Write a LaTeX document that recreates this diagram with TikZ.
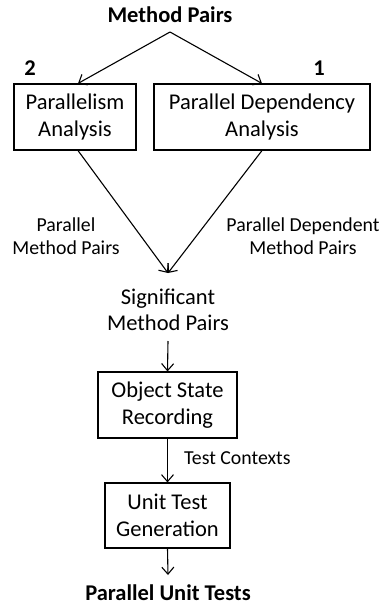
\documentclass[tikz,border=0pt]{standalone}
\usepackage{fontspec}
\setmainfont{Carlito}
\usepackage{xcolor}
\usetikzlibrary{positioning,arrows.meta,calc}
\tikzset{
  stage/.style={draw=black, line width=1.1pt, align=center, inner sep=0pt,
                minimum height=66pt, font=\fontsize{22.5}{27}\selectfont},
  flowtext/.style={align=center, inner sep=0pt, font=\fontsize{22.5}{26}\selectfont},
  edgelabel/.style={align=center, inner sep=0pt, font=\fontsize{19.8}{23}\selectfont},
  heading/.style={inner sep=0pt, font=\fontsize{22.5}{27}\selectfont\bfseries},
  flow/.style={line width=1.1pt, -{Straight Barb[length=7pt,width=12pt]}}
}

\begin{document}
\begin{tikzpicture}[x=1pt, y=-1pt]
  \useasboundingbox (0,0) rectangle (388,608);

  \node[heading] (input) at (170,15) {Method Pairs};
  \coordinate (split) at (170,32);

  \node[stage, minimum width=122pt] (para) at (75,117) {Parallelism\\Analysis};
  \node[stage, minimum width=216pt] (dep) at (262,117) {Parallel Dependency\\Analysis};
  \node[heading] (numtwo) at (30,68) {2};
  \node[heading] (numone) at (319,68) {1};

  \draw[flow] (split) -- (para.north -| 78,0);
  \draw[flow] (split) -- (dep.north);

  % both analyses meet here
  \coordinate (merge) at (168,273);
  \draw[flow] (para.south -| 78,0) -- (merge);
  \draw[flow] (dep.south) -- (merge);
  \node[edgelabel] (paralabel) at (66,236) {Parallel\\Method Pairs};
  \node[edgelabel] (deplabel) at (303,236) {Parallel Dependent\\Method Pairs};

  \node[flowtext] (signif) at (168,310) {Significant\\Method Pairs};

  \node[stage, minimum width=139pt] (record) at (167.5,405) {Object State\\Recording};
  \node[stage, minimum width=125pt, minimum height=65pt] (gen) at (167.5,515.5) {Unit Test\\Generation};
  \node[heading] (output) at (168,593) {Parallel Unit Tests};

  \draw[flow] (signif.south |- 0,341) -- (record.north);
  \draw[flow] (record.south) -- (gen.north)
    node[edgelabel, pos=0.45, anchor=west, xshift=16pt] (ctxlabel) {Test Contexts};
  \draw[flow] (gen.south) -- (output.north |- 0,575);
\end{tikzpicture}
\end{document}
